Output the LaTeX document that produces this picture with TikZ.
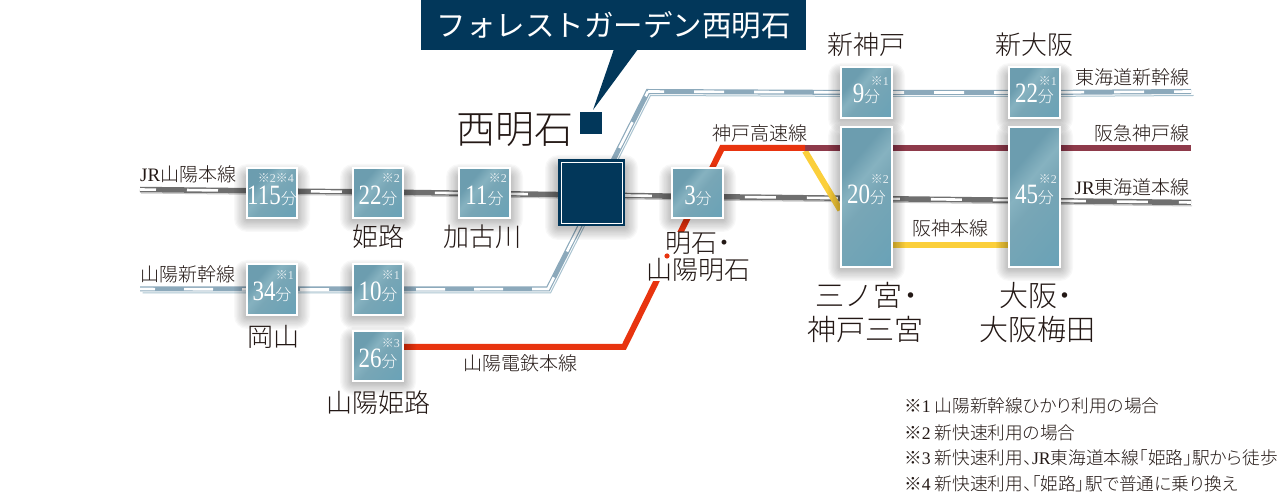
\documentclass[tikz,border=0pt]{standalone}
\usepackage{fontspec}
\setmainfont{Liberation Serif}
\newfontfamily\jp{Noto Sans CJK JP Light}
\newfontfamily\jpr{Noto Sans CJK JP}
\newfontfamily\jpp[RawFeature=+palt]{Noto Sans CJK JP Light}
\newfontfamily\numf[FakeStretch=0.82]{Liberation Serif}
\usetikzlibrary{calc}
\definecolor{navy}{HTML}{02375A}
\definecolor{ink}{HTML}{231815}
\definecolor{jrgrey}{HTML}{6F6F6F}
\definecolor{jrrail}{HTML}{C8C8C8}
\definecolor{shink}{HTML}{8CA9BB}
\definecolor{shrail}{HTML}{A9C3D0}
\definecolor{redline}{HTML}{E8340F}
\definecolor{maroon}{HTML}{8E3A4A}
\definecolor{yel}{HTML}{FBCF3B}
\definecolor{tA}{HTML}{6C9DAF}
\definecolor{tM}{HTML}{78A6B6}
\definecolor{tB}{HTML}{86B2C0}
\definecolor{tC}{HTML}{62A0B7}
\pgfdeclarehorizontalshading{boxsh}{100bp}{color(0bp)=(tA); color(32bp)=(tA); color(42bp)=(tB); color(52bp)=(tM); color(100bp)=(tC)}
\newcommand{\fs}[1]{\fontsize{#1}{#1}\selectfont}
\newcommand{\fsl}[2]{\fontsize{#1}{#2}\selectfont}
\newcommand{\nd}{\hspace{-.22em}・\hspace{-.22em}}
\pgfdeclarelayer{lines}
\pgfdeclarelayer{shadows}
\pgfsetlayers{lines,shadows,main}
\tikzset{
  x=1pt,y=-1pt,
  tbox/.style={draw=white,line width=1.5pt,inner sep=0pt,shading=boxsh,shading angle=-40},
  lbl/.style={inner sep=0pt,text=ink,font=\jp},
  numt/.style={inner sep=0pt,text=white},
  note/.style={inner sep=0pt,text=white,anchor=east},
  jrline/.style={line width=5.5pt,jrgrey,
    preaction={draw=jrrail,line width=1pt,transform canvas={shift={(1pt,-3.5pt)}}},
    postaction={draw=white,line width=2.6pt,dash pattern=on 31pt off 31pt,dash phase=15pt}},
  shline/.style={line width=5pt,shink,line join=miter,
    preaction={draw=shrail,line width=1pt,transform canvas={shift={(2.5pt,-4pt)}}}},
  shdashL/.style={draw=white,line width=2.6pt,dash pattern=on 29pt off 29pt,dash phase=14pt},
  shdashR/.style={draw=white,line width=2.6pt,dash pattern=on 30pt off 30pt,dash phase=14pt},
  solid6/.style={line width=6pt,line join=miter},
}
\newcommand{\softshadow}[4]{%
  \begin{pgfonlayer}{shadows}
    \foreach \k in {1,...,10}{
      \fill[black,opacity=.028,rounded corners={1.3*\k pt}]
        ({#1-1.3*\k},{#2+9-1.3*\k}) rectangle ({#3+1.3*\k},{#4+1+1.3*\k});
    }
  \end{pgfonlayer}
}
% #1 name, #2 x1, #3 y1, #4 x2, #5 y2, #6 number, #7 note, #8 number y, #9 note y
\newcommand{\timebox}[9]{%
  \node[tbox,minimum width=#4-#2,minimum height=#5-#3] (#1) at ({(#2+#4)/2},{(#3+#5)/2}) {};
  \node[numt] (#1-t) at ({(#2+#4)/2},#8+1) {\numf\fs{28}#6{\jp\fs{16}分}};
  \node[note] (#1-n) at (#4-3,#9) {\fs{12}\color{white!85!tA}#7};
  \softshadow{#2}{#3}{#4}{#5}
}
\begin{document}
\begin{tikzpicture}
\useasboundingbox (0,0) rectangle (1280,494);
% time boxes
\timebox{a115}{247}{168}{297}{218}{115}{{\jp※}2{\jp※}4}{195}{178}
\timebox{a22}{353}{168}{403}{218}{22}{{\jp※}2}{195}{178}
\timebox{a11}{459}{168}{510}{218}{11}{{\jp※}2}{195}{178}
\timebox{a3}{672}{168}{723}{218}{\hspace{1pt}3}{}{195}{178}
\timebox{b34}{247}{264}{297}{315}{34}{{\jp※}1}{291}{275}
\timebox{b10}{353}{264}{403}{315}{10}{{\jp※}1}{291}{275}
\timebox{c26}{353}{331}{403}{381}{26}{{\jp※}3}{358}{343}
\timebox{d9}{841}{67}{892}{118}{9}{{\jp※}1}{93}{81}
\timebox{d22}{1009}{67}{1060}{118}{22}{{\jp※}1}{93}{81}
\timebox{e20}{841}{127}{892}{267}{20}{{\jp※}2}{194}{179}
\timebox{e45}{1009}{127}{1060}{267}{45}{{\jp※}2}{194}{179}
% station box
\node[fill=navy,inner sep=0pt,minimum width=67pt,minimum height=67pt] (nishi) at (591.5,192.5) {};
\node[draw=white,line width=.8pt,inner sep=0pt,minimum width=61pt,minimum height=61pt] (nishi-in) at (nishi.center) {};
\softshadow{558}{159}{625}{226}
% free line ends and bends
\coordinate (jrW) at (140,189.5);
\coordinate (jrE) at (1191,202.5);
\coordinate (shW) at (140,289);
\coordinate (shB) at (548,289);
\coordinate (shT) at (648,91.5);
\coordinate (shE) at (1191,91.5);
\coordinate (rdB) at (624,347);
\coordinate (rdT) at (722,148);
\coordinate (rdM) at (805,148);
\coordinate (haE) at (1191,148);
\coordinate (yeS) at (805,151);
\begin{pgfonlayer}{lines}
  \draw[jrline] (jrW) -- ([yshift=2pt]a115.center) -- ([yshift=1pt]a22.center) -- ([yshift=-.5pt]a11.center) -- ([yshift=-2.5pt]nishi.center) -- ([yshift=-3.5pt]a3.center) -- ([yshift=-1.5pt]e20.center) -- ([yshift=-3.5pt]e45.center) -- (jrE);
  \draw[shline] (shW) -- ([yshift=.5pt]b34.center) -- ([yshift=.5pt]b10.center) -- (shB) -- (shT) -- (d9.center) -- (d22.center) -- (shE);
  \draw[shdashL] (shW) -- (b34.center) -- (b10.center) -- (shB) -- (shT);
  \draw[shdashR] (shT) -- (d9.center) -- (d22.center) -- (shE);
  \draw[yel,solid6] (yeS) -- (e20.west |- 0,210);
  \draw[yel,solid6] (e20.east |- 0,245) -- node[lbl,above=5pt] (hanshin) {\fs{19}阪神本線} (e45.west |- 0,245);
  \draw[maroon,solid6] (rdM) -- (e20.center |- 0,148) -- (e45.center |- 0,148) -- (haE);
  \draw[redline,solid6] ([yshift=9pt]c26.center) -- (rdB) -- (rdT) -- (rdM);
\end{pgfonlayer}
% callout
\node[fill=navy,inner sep=0pt,minimum width=385pt,minimum height=50pt,text=white,font=\jpr] (callout) at (613.5,25) {\fs{29.5}フォレストガーデン西明石};
\coordinate (tip) at (593,110);
\fill[navy] (614,49) -- (638,49) -- (tip) -- cycle;
\node[fill=navy,inner sep=0pt,minimum width=22pt,minimum height=22pt] (marker) at (591,123) {};
% station names
\node[lbl] (t-nishi) at (514.5,130) {\fs{39}西明石};
\node[lbl] (t-shinkobe) at (866.5,45) {\fs{26}新神戸};
\node[lbl] (t-shinosaka) at (1034,45) {\fs{26}新大阪};
\node[lbl] (t-himeji) at (378,237) {\fs{26}姫路};
\node[lbl] (t-kako) at (482.5,237) {\fs{26}加古川};
\node[lbl] (t-okayama) at (273,337) {\fs{26}岡山};
\node[lbl] (t-sanyohimeji) at (378,403) {\fs{26}山陽姫路};
\node[lbl,fill=white,align=center,minimum width=104pt,font=\jp\fsl{26}{27}] (t-akashi) at (698.5,256.5) {\hspace{6pt}明石\nd\\山陽明石};
\fill[redline] (667,256) circle (2.6pt);
\node[lbl,align=center,font=\jp\fsl{29}{34}] (t-sannomiya) at (865.5,313) {\hspace{10pt}三ノ宮\nd\\神戸三宮};
\node[lbl,align=center,font=\jp\fsl{29}{34}] (t-osaka) at (1037.5,313) {\hspace{4pt}大阪\nd\\大阪梅田};
% line names
\node[lbl,anchor=west] (l-jrsanyo) at (140,174) {\fs{19}{\rmfamily JR}山陽本線};
\node[lbl,anchor=west] (l-sanyosh) at (140,274) {\fs{19}山陽新幹線};
\node[lbl] (l-kobekosoku) at (759.5,133) {\fs{19}神戸高速線};
\node[lbl,anchor=east] (l-tokaido) at (1190,77) {\fs{19}東海道新幹線};
\node[lbl,anchor=east] (l-hankyu) at (1190,133) {\fs{19}阪急神戸線};
\node[lbl,anchor=east] (l-jrtokai) at (1190,187) {\fs{19}{\rmfamily JR}東海道本線};
\node[lbl] (l-sanyoden) at (520,363) {\fs{19}山陽電鉄本線};
% notes
\node[lbl,anchor=west,font=\jpp] (n1) at (904,406) {\fs{17.7}※{\rmfamily 1} 山陽新幹線ひかり利用の場合};
\node[lbl,anchor=west,font=\jpp] (n2) at (904,433) {\fs{17.7}※{\rmfamily 2} 新快速利用の場合};
\node[lbl,anchor=west,font=\jpp] (n3) at (904,458) {\fs{17.7}※{\rmfamily 3} 新快速利用、{\rmfamily JR}東海道本線「姫路」駅から徒歩};
\node[lbl,anchor=west,font=\jpp] (n4) at (904,484) {\fs{17.7}※{\rmfamily 4} 新快速利用、「姫路」駅で普通に乗り換え};
\end{tikzpicture}
\end{document}
